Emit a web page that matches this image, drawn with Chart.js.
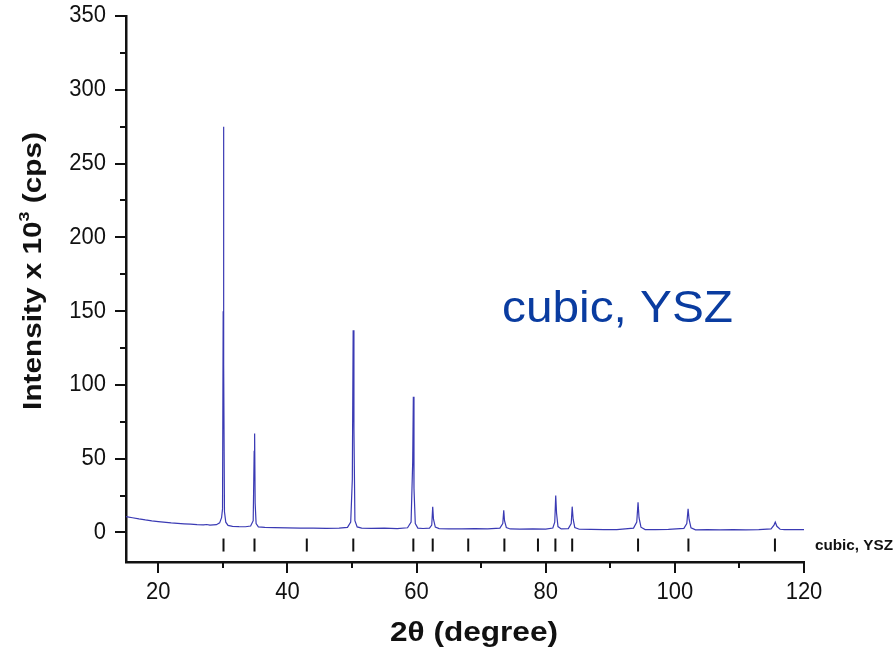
<!DOCTYPE html>
<html>
<head>
<meta charset="utf-8">
<script src="https://cdn.jsdelivr.net/npm/chart.js@4.4.1/dist/chart.umd.min.js"></script>
<style>
  html, body { margin:0; padding:0; background:#fff; }
  #wrap { width:895px; height:653px; position:relative; }
</style>
</head>
<body>
<div id="wrap"><canvas id="chart"></canvas></div>
<script>
// measured pattern, 2theta (degree) vs intensity (x10^3 cps)
const twoTheta = [
  15, 16, 17, 18, 19, 20, 22, 24, 25, 26, 27, 27.5, 28, 29, 29.5, 29.8, 29.95, 30.05, 30.1, 30.15, 30.25, 30.45, 30.8,
  31.5, 32.5, 33.5, 34.3, 34.7, 34.85, 34.92, 35.0, 35.15, 35.5, 36.5,
  38, 40, 42, 44, 46, 48, 49.3, 49.8, 50.05, 50.18, 50.3, 50.45, 50.8, 51.5,
  53, 55, 57, 58.6, 59.15, 59.4, 59.5, 59.6, 59.8, 60.2, 61,
  62.0, 62.35, 62.5, 62.62, 62.9, 63.5,
  65, 67, 69, 71, 72.9, 73.35, 73.5, 73.62, 73.9, 74.5,
  76, 78, 80, 81.1, 81.4, 81.55, 81.68, 81.9, 82.4,
  83.5, 83.95, 84.1, 84.25, 84.5, 85.2,
  87, 89, 91, 93.6, 94.1, 94.3, 94.45, 94.75, 95.4,
  97, 99, 101.4, 101.85, 102.05, 102.2, 102.5, 103.2,
  105, 107, 109, 111, 113, 114.9, 115.35, 115.55, 115.8, 116.3, 117, 118.5, 120
];
const intensity = [
  10.8, 10.0, 9.2, 8.5, 7.9, 7.4, 6.5, 5.9, 5.6, 5.3, 5.1, 5.4, 5.0, 5.3, 6.5, 10, 16, 150, 275, 114, 14, 7, 4.8,
  4.2, 4.0, 3.9, 4.4, 8, 55, 67, 20, 6, 3.8, 3.5,
  3.3, 3.1, 3.0, 2.9, 2.8, 2.9, 3.5, 7, 36, 137, 70, 8, 3.8, 3.0,
  2.8, 2.9, 2.6, 3.2, 7, 48, 92, 30, 6, 3.0, 2.7,
  3.0, 5, 17.5, 9, 3.6, 2.6,
  2.5, 2.4, 2.6, 2.4, 3.0, 6, 15, 8, 3.4, 2.4,
  2.3, 2.5, 2.3, 3.0, 7, 25, 13, 4, 2.4,
  2.6, 6, 17.5, 9, 3.4, 2.2,
  2.1, 1.9, 2.0, 3.0, 7, 20.5, 10, 3.6, 2.0,
  1.9, 2.1, 2.8, 6, 16, 9, 3.2, 1.8,
  1.9, 1.8, 2.0, 1.8, 1.9, 2.4, 5, 7, 4.2, 2.2, 1.9, 2.0, 2.0
];
// reference reflections for cubic YSZ (tick row under the pattern)
const refPeaks = [30.1, 34.9, 43.0, 50.2, 59.5, 62.5, 68.0, 73.6, 78.8, 81.5, 84.1, 94.3, 102.1, 115.5];
const refLevel = -8.5;

const xMajor = [20, 40, 60, 80, 100, 120];
const xMinor = [30, 50, 70, 90, 110];
const yMajor = [0, 50, 100, 150, 200, 250, 300, 350];
const yMinor = [25, 75, 125, 175, 225, 275, 325];

const FONT = "Arial, 'Liberation Sans', Helvetica, sans-serif";

const spectrum = twoTheta.map((t, i) => ({ x: t, y: intensity[i] }));
const refMarks = refPeaks.map(t => ({ x: t, y: refLevel }));

// draw text at (x,y), stretched to a given width (w) and height factor (sy)
function stretchText(c, text, x, y, font, align, w, sy) {
  c.save();
  c.font = font;
  const mw = c.measureText(text).width;
  const sx = w ? w / mw : 1;
  c.translate(x, y);
  c.scale(sx, sy || 1);
  c.textAlign = align;
  c.textBaseline = "middle";
  c.fillText(text, 0, 0);
  c.restore();
}

/* ticks (major + minor), tick labels and titles */
const decor = {
  id: "decor",
  afterDraw(chart) {
    const c = chart.ctx;
    const xs = chart.scales.x, ys = chart.scales.y;
    const area = chart.chartArea;
    c.save();
    c.strokeStyle = "#111";
    c.lineWidth = 2;
    yMajor.forEach(v => {
      const p = Math.round(ys.getPixelForValue(v));
      c.beginPath(); c.moveTo(area.left - 11, p); c.lineTo(area.left, p); c.stroke();
    });
    yMinor.forEach(v => {
      const p = Math.round(ys.getPixelForValue(v));
      c.beginPath(); c.moveTo(area.left - 6, p); c.lineTo(area.left, p); c.stroke();
    });
    xMajor.forEach(v => {
      const p = Math.round(xs.getPixelForValue(v));
      c.beginPath(); c.moveTo(p, area.bottom); c.lineTo(p, area.bottom + 11); c.stroke();
    });
    xMinor.forEach(v => {
      const p = Math.round(xs.getPixelForValue(v));
      c.beginPath(); c.moveTo(p, area.bottom); c.lineTo(p, area.bottom + 6); c.stroke();
    });
    c.restore();

    c.save();
    c.fillStyle = "#111";
    yMajor.forEach(v => {
      stretchText(c, String(v), area.left - 20, ys.getPixelForValue(v), "22px " + FONT, "right", 0, 1.05);
    });
    xMajor.forEach(v => {
      stretchText(c, String(v), xs.getPixelForValue(v), area.bottom + 31, "22px " + FONT, "center", 0, 1.05);
    });

    // x axis title
    stretchText(c, "2θ (degree)", 474, 633, "bold 28px " + FONT, "center", 168, 1);

    // y axis title with superscript
    c.translate(34, 271);
    c.rotate(-Math.PI / 2);
    c.scale(1.19, 1);
    c.textBaseline = "middle";
    const big = "bold 25px " + FONT, small = "bold 15px " + FONT;
    const parts = [["Intensity x 10", big, 0], ["3", small, -9], [" (cps)", big, 0]];
    let w = 0;
    parts.forEach(p => { c.font = p[1]; w += c.measureText(p[0]).width; });
    let x = -w / 2;
    parts.forEach(p => {
      c.font = p[1];
      c.textAlign = "left";
      c.fillText(p[0], x, p[2]);
      x += c.measureText(p[0]).width;
    });
    c.restore();

    c.save();
    c.fillStyle = "#0a3ca0";
    stretchText(c, "cubic, YSZ", 502, 310, "44px " + FONT, "left", 231, 1);
    c.fillStyle = "#111";
    stretchText(c, "cubic, YSZ", 815, ys.getPixelForValue(refLevel) + 1, "bold 14px " + FONT, "left", 78, 1);
    c.restore();
  }
};

new Chart(document.getElementById("chart"), {
  type: "scatter",
  data: {
    datasets: [
      {
        label: "YSZ pattern",
        data: spectrum,
        showLine: true,
        borderColor: "#3a3ab4",
        borderWidth: 1.2,
        pointRadius: 0,
        tension: 0
      },
      {
        label: "cubic, YSZ",
        data: refMarks,
        showLine: false,
        pointStyle: "line",
        rotation: 90,
        radius: 6.5,
        borderColor: "#111",
        borderWidth: 2
      }
    ]
  },
  options: {
    responsive: true,
    maintainAspectRatio: false,
    animation: false,
    layout: { padding: { top: 16, right: 91, left: 0, bottom: 0 } },
    plugins: { legend: { display: false }, tooltip: { enabled: false } },
    scales: {
      x: {
        type: "linear",
        min: 15,
        max: 120,
        afterFit(scale) { scale.height = 91; },
        grid: { display: false },
        border: { display: true, color: "#111", width: 2.5 },
        ticks: { display: false }
      },
      y: {
        min: -20,
        max: 350,
        afterFit(scale) { scale.width = 126; },
        grid: { display: false },
        border: { display: true, color: "#111", width: 2.5 },
        ticks: { display: false }
      }
    }
  },
  plugins: [decor]
});
</script>
</body>
</html>
